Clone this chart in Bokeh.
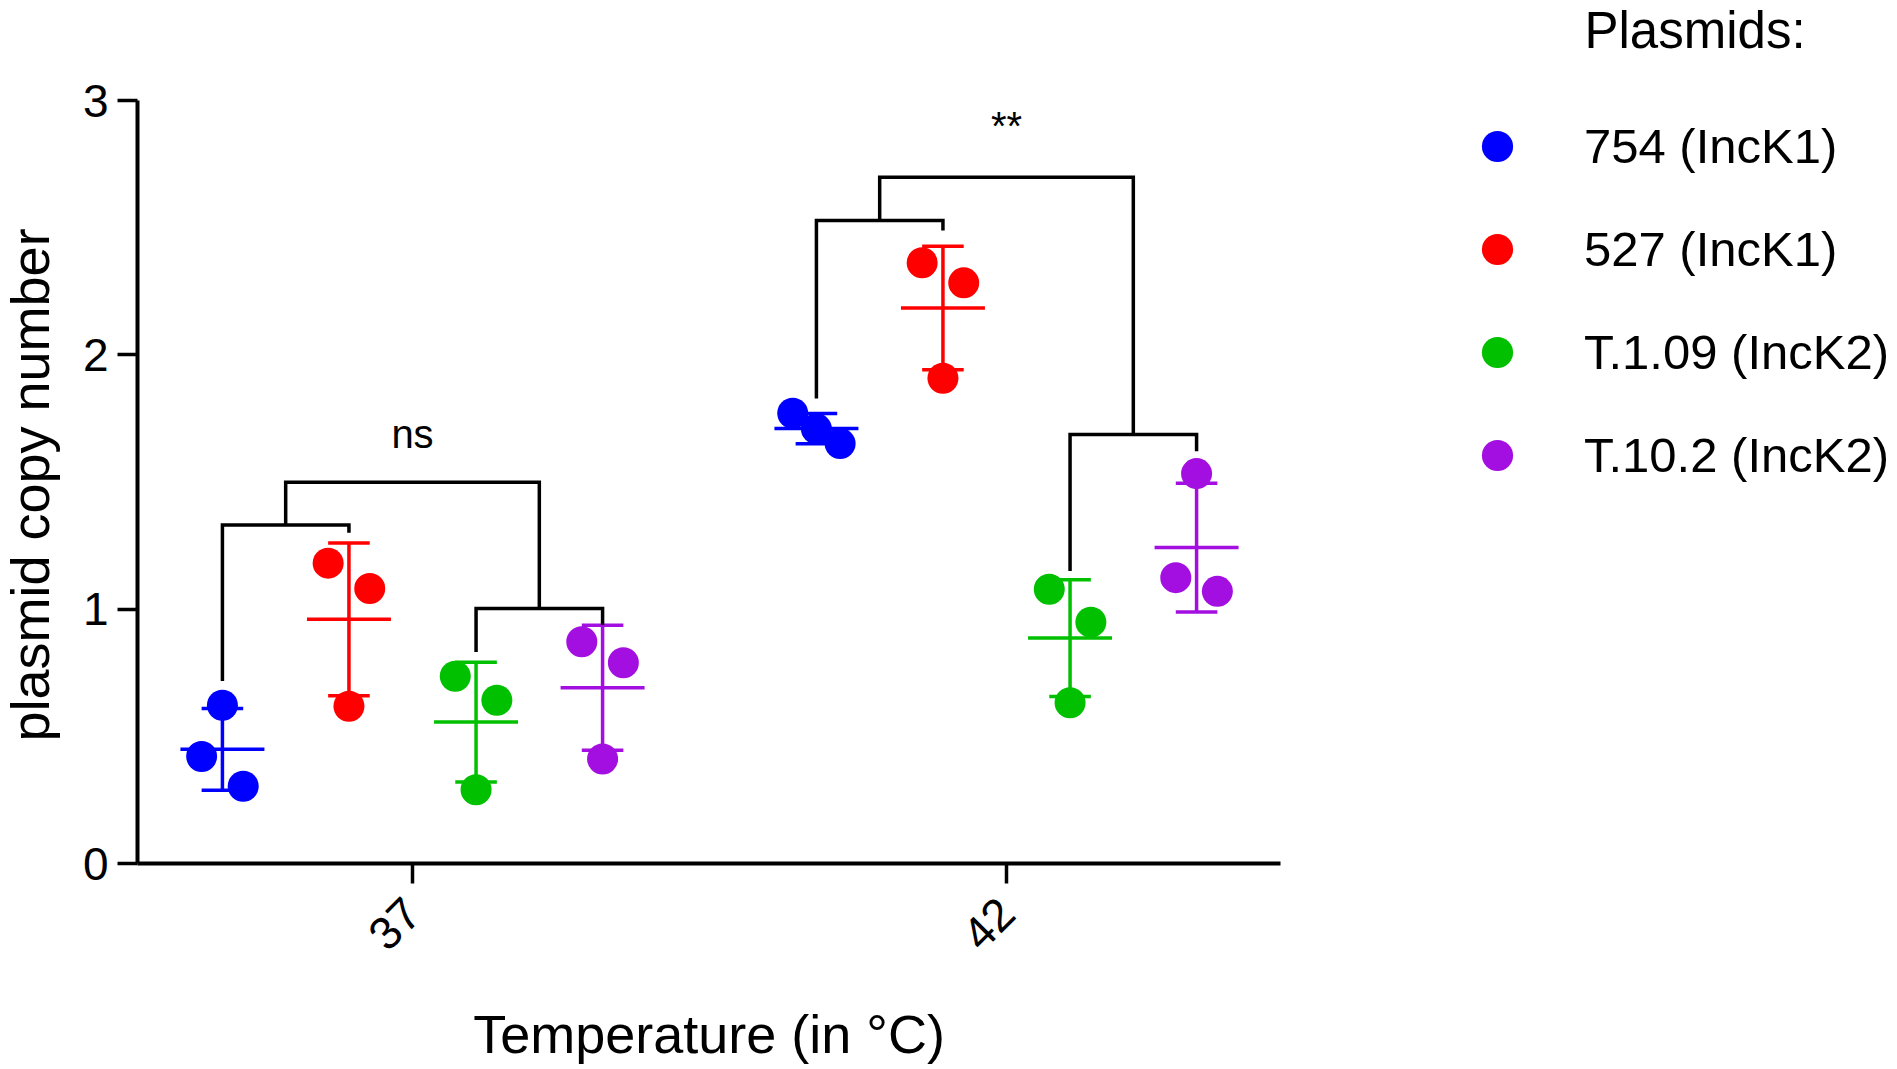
import math
import numpy as np
from bokeh.plotting import figure
from bokeh.models import Range1d, FixedTicker, Legend, LegendItem, Label
from bokeh.embed import file_html
from bokeh.resources import INLINE

# ---------------- data ----------------
TEMPS = ["37", "42"]
PLASMIDS = ["754 (IncK1)", "527 (IncK1)", "T.1.09 (IncK2)", "T.10.2 (IncK2)"]
COLORS = ["#0000FF", "#FF0000", "#00C000", "#A30FE0"]

# replicate plasmid copy numbers: [values at 37 °C], [values at 42 °C]
P754 = [[0.622, 0.421, 0.304], [1.770, 1.709, 1.651]]
P527 = [[1.181, 1.081, 0.618], [2.362, 2.283, 1.908]]
PT109 = [[0.736, 0.642, 0.290], [1.078, 0.949, 0.632]]
PT102 = [[0.872, 0.789, 0.411], [1.533, 1.124, 1.070]]
SERIES = [P754, P527, PT109, PT102]

Y_TICKS = [0, 1, 2, 3]
Y_MAX = 3

X_TITLE = "Temperature (in °C)"
Y_TITLE = "plasmid copy number"
LEGEND_TITLE = "Plasmids:"

# significance brackets per temperature
SIG_LABELS = ["ns", "**"]
SIG_Y = [1.632, 2.845]
# (bar height, left leg end, right leg end)
PAIR_AB = [[1.331, 0.718, 1.300], [2.528, 1.828, 2.489]]
PAIR_CD = [[1.003, 0.832, 0.939], [1.687, 1.150, 1.621]]
TOP_BAR = [1.499, 2.698]

# ---------------- layout / style ----------------
FONT = "Liberation Sans"
W, H = 1897, 1069
AX_L = 137             # px, y axis position
AX_R = 1280            # px, right end of x axis
AX_T = 100             # px, y = 3
AX_B = 863             # px, x axis position
X0_PX = 412            # px of first category
PX_PER_X = 594.0
PX_PER_Y = (AX_B - AX_T) / Y_MAX
LABEL_SHIFT = 0.36     # baseline correction of Label text, in em


def px_x(px):
    return (px - X0_PX) / PX_PER_X


def px_y(py):
    return (AX_B - py) / PX_PER_Y


GROUP_OFFSETS = [-0.32, -0.107, 0.107, 0.32]
JIT = 0.035
JITTER = [
    [[0, -1, 1], [-1.14, 0, 1.14]],
    [[-1, 1, 0], [-1, 1, 0]],
    [[-1, 1, 0], [-1, 1, 0]],
    [[-1, 1, 0], [0, -1, 1]],
]
CAP_HW = 0.035
MEAN_HW = 0.0707
LW = 3.5
DOT = 31

# the frame covers the whole canvas; axes are pinned at their data positions
p = figure(width=W, height=H,
           x_range=Range1d(px_x(0), px_x(W)), y_range=Range1d(px_y(H), px_y(0)),
           output_backend="svg", toolbar_location=None, min_border=0)
p.outline_line_color = None
p.xgrid.visible = False
p.ygrid.visible = False
p.background_fill_color = "white"
p.border_fill_color = "white"

renderers = []
for gi, series in enumerate(SERIES):
    xs, ys = [], []
    mx, my, lo, hi = [], [], [], []
    for ti, vals in enumerate(series):
        cx = ti + GROUP_OFFSETS[gi]
        for k, v in enumerate(vals):
            xs.append(cx + JITTER[gi][ti][k] * JIT)
            ys.append(v)
        arr = np.array(vals)
        m = arr.mean()
        s = arr.std(ddof=1)
        mx.append(cx); my.append(m); lo.append(m - s); hi.append(m + s)
    r = p.scatter(xs, ys, size=DOT, fill_color=COLORS[gi], line_color=None)
    renderers.append(r)
    mx = np.array(mx)
    p.segment(mx, lo, mx, hi, line_color=COLORS[gi], line_width=LW)
    p.segment(mx - CAP_HW, lo, mx + CAP_HW, lo, line_color=COLORS[gi], line_width=LW)
    p.segment(mx - CAP_HW, hi, mx + CAP_HW, hi, line_color=COLORS[gi], line_width=LW)
    p.segment(mx - MEAN_HW, my, mx + MEAN_HW, my, line_color=COLORS[gi], line_width=LW)

# significance brackets
bx, by = [], []
for ti in range(len(TEMPS)):
    xa, xb, xc, xd = [ti + o for o in GROUP_OFFSETS]
    yab, la, lb = PAIR_AB[ti]
    ycd, lc, ld = PAIR_CD[ti]
    bx.append([xa, xa, xb, xb]); by.append([la, yab, yab, lb])
    bx.append([xc, xc, xd, xd]); by.append([lc, ycd, ycd, ld])
    m1 = (xa + xb) / 2
    m2 = (xc + xd) / 2
    bx.append([m1, m1, m2, m2]); by.append([yab, TOP_BAR[ti], TOP_BAR[ti], ycd])
p.multi_line(bx, by, line_color="black", line_width=LW, line_join="miter")

SIG_FS = 40
for ti, lab in enumerate(SIG_LABELS):
    p.add_layout(Label(x=ti, y=SIG_Y[ti] + LABEL_SHIFT * SIG_FS / PX_PER_Y, text=lab,
                       text_align="center", text_baseline="alphabetic", text_font=FONT,
                       text_font_size=f"{SIG_FS}px", text_color="black"))

# axes
for ax in (p.xaxis[0], p.yaxis[0]):
    ax.axis_line_width = 4
    ax.axis_line_color = "black"
    ax.major_tick_line_width = 3.5
    ax.major_tick_line_color = "black"
    ax.major_tick_in = 0
    ax.major_tick_out = 20
    ax.minor_tick_line_color = None
    ax.major_label_text_font = FONT
    ax.major_label_text_font_size = "46px"
    ax.major_label_text_color = "black"

p.xaxis.fixed_location = 0
p.xaxis.bounds = (px_x(AX_L), px_x(AX_R))
p.xaxis.ticker = FixedTicker(ticks=list(range(len(TEMPS))))
p.xaxis.major_label_overrides = {i: t for i, t in enumerate(TEMPS)}
p.xaxis.major_label_orientation = math.pi / 4
p.xaxis.major_label_standoff = 22

p.yaxis.fixed_location = px_x(AX_L)
p.yaxis.bounds = (0, Y_MAX)
p.yaxis.ticker = FixedTicker(ticks=Y_TICKS)
p.yaxis.major_label_standoff = 9

# axis titles
AX_FS = 54
p.add_layout(Label(x=px_x((AX_L + AX_R) / 2), y=px_y(1053 - LABEL_SHIFT * AX_FS),
                   text=X_TITLE, text_align="center", text_baseline="alphabetic",
                   text_font=FONT, text_font_size=f"{AX_FS}px", text_color="black"))
p.add_layout(Label(x=px_x(49 - LABEL_SHIFT * AX_FS), y=px_y((AX_T + AX_B) / 2 + 3),
                   text=Y_TITLE, angle=math.pi / 2, text_align="center",
                   text_baseline="alphabetic",
                   text_font=FONT, text_font_size=f"{AX_FS}px", text_color="black"))

# legend
GLYPH = 78
SPACING = 25
leg_left = 1458
leg_top = 146 - GLYPH / 2
leg_bottom = leg_top + 4 * GLYPH + 3 * SPACING
legend = Legend(items=[LegendItem(label=PLASMIDS[i], renderers=[renderers[i]]) for i in range(4)],
                location=(leg_left, H - leg_bottom),
                glyph_width=GLYPH, glyph_height=GLYPH,
                label_standoff=48, spacing=SPACING, padding=0, margin=0,
                border_line_color=None, background_fill_alpha=0,
                label_text_font=FONT, label_text_font_size="49px",
                label_text_color="black")
p.add_layout(legend)

TITLE_FS = 51
p.add_layout(Label(x=px_x(1584), y=px_y(48 - LABEL_SHIFT * TITLE_FS),
                   text=LEGEND_TITLE, text_align="left",
                   text_baseline="alphabetic", text_font=FONT,
                   text_font_size=f"{TITLE_FS}px", text_color="black"))

open("out.html", "w").write(file_html(p, INLINE))
